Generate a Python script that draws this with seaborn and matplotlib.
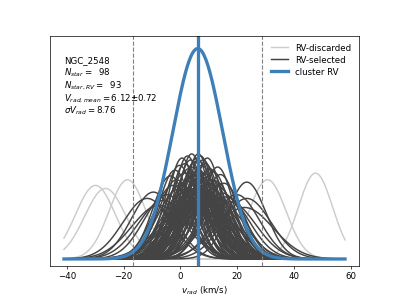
import numpy as np
import pandas as pd
import seaborn as sns
import matplotlib
matplotlib.use('Agg')
import matplotlib.pyplot as plt
from matplotlib.lines import Line2D

# cluster info
cluster = 'NGC_2548'
n_star = 98
n_star_rv = 93
v_mean = 6.12
v_mean_err = 0.72
v_sigma = 8.76
cluster_peak = 0.163
cut_low, cut_high = -16.6, 28.6

# RV of selected members (km/s) and errors
sel_v = [-11.7, -9.5, -4.8, -3.5, -2.6, -1.9, -1.3, -0.8, -0.3, 0.2,
         0.6, 1.0, 1.3, 1.6, 1.9, 2.2, 2.5, 2.8, 3.0, 3.2,
         3.4, 3.6, 3.8, 4.0, 4.2, 4.4, 4.6, 4.8, 5.0, 5.1,
         5.3, 5.5, 5.6, 5.8, 6.0, 6.1, 6.3, 6.5, 6.6, 6.8,
         7.0, 7.1, 7.3, 7.5, 7.6, 7.8, 8.0, 8.2, 8.4, 8.6,
         8.8, 9.0, 9.2, 9.5, 9.7, 10.0, 10.3, 10.6, 10.9, 11.2,
         11.5, 11.9, 12.3, 12.7, 13.1, 13.6, 14.1, 14.7, 15.3, 16.0,
         17.5, 19.8, 22.6, 23.4, 23.4, 2.9, 5.2, 7.9, 4.1, 9.9,
         1.8, -6.0, -7.5]
sel_err = [8.5, 7.7, 8.0, 6.2, 7.0, 5.8, 6.5, 7.4, 5.5, 6.9,
           5.1, 7.8, 6.0, 5.4, 8.8, 6.6, 5.0, 7.2, 5.7, 9.1,
           6.3, 5.2, 7.5, 4.9, 8.1, 6.1, 5.6, 7.0, 5.3, 9.4,
           6.8, 5.9, 8.4, 5.1, 7.3, 6.4, 4.9, 8.9, 5.8, 7.6,
           6.2, 5.0, 9.2, 5.5, 7.1, 6.7, 5.2, 8.0, 6.0, 7.7,
           5.4, 8.6, 6.3, 5.1, 7.9, 6.9, 5.7, 9.0, 6.5, 7.4,
           5.9, 8.2, 6.6, 7.0, 5.6, 8.7, 6.1, 7.8, 6.8, 8.3,
           9.0, 8.0, 10.0, 6.7, 8.5, 9.8, 10.2, 9.5, 10.5, 9.9,
           9.7, 8.8, 9.6]

# discarded stars
dis_v = [-29.9, -26.4, -18.6, 30.7, 47.6]
dis_err = [7.0, 7.3, 6.5, 6.5, 6.0]

x = np.linspace(-41, 58, 300)


def gauss_df(vs, errs):
    rows = []
    for i, (v, e) in enumerate(zip(vs, errs)):
        y = np.exp(-0.5 * ((x - v) / e) ** 2) / (e * np.sqrt(2 * np.pi))
        rows.append(pd.DataFrame({'x': x, 'y': y, 'star': i}))
    return pd.concat(rows, ignore_index=True)


df_sel = gauss_df(sel_v, sel_err)
df_dis = gauss_df(dis_v, dis_err)
df_cl = pd.DataFrame({'x': x, 'y': cluster_peak * np.exp(-0.5 * ((x - v_mean) / v_sigma) ** 2)})

fig, ax = plt.subplots(figsize=(6.4, 4.8), dpi=399 / 6.4)

sns.lineplot(data=df_dis, x='x', y='y', units='star', estimator=None,
             color='#cccccc', lw=1.7, ax=ax)
sns.lineplot(data=df_sel, x='x', y='y', units='star', estimator=None,
             color='#444444', lw=1.7, ax=ax)
sns.lineplot(data=df_cl, x='x', y='y', color='#3f7fb8', lw=3.8, ax=ax)
ax.axvline(v_mean, color='#3f7fb8', lw=3.8)
ax.axvline(cut_low, color='grey', ls='--', lw=1.3)
ax.axvline(cut_high, color='grey', ls='--', lw=1.3)

ax.set_ylim(-0.0055, 0.173)
ax.set_yticks([])
ax.set_ylabel('')
ax.set_xticks([-40, -20, 0, 20, 40, 60])
ax.set_xlabel('$v_{rad}$ (km/s)')

lines = [cluster,
         r'$N_{star}=$ ' + ' %d' % n_star,
         r'$N_{star,RV}=$ ' + ' %d' % n_star_rv,
         r'$V_{rad,mean}=%.2f$' % v_mean + '±' + '%.2f' % v_mean_err,
         r'$\sigma V_{rad}=%.2f$' % v_sigma]
for i, s in enumerate(lines):
    ax.text(0.045, 0.883 - 0.055 * i, s, transform=ax.transAxes,
            va='baseline', ha='left')

handles = [Line2D([], [], color='#cccccc', lw=1.7),
           Line2D([], [], color='#444444', lw=1.7),
           Line2D([], [], color='#3f7fb8', lw=3.8)]
ax.legend(handles, ['RV-discarded', 'RV-selected', 'cluster RV'],
          loc='upper right', frameon=False, labelspacing=0.35)

fig.savefig('out.png')
